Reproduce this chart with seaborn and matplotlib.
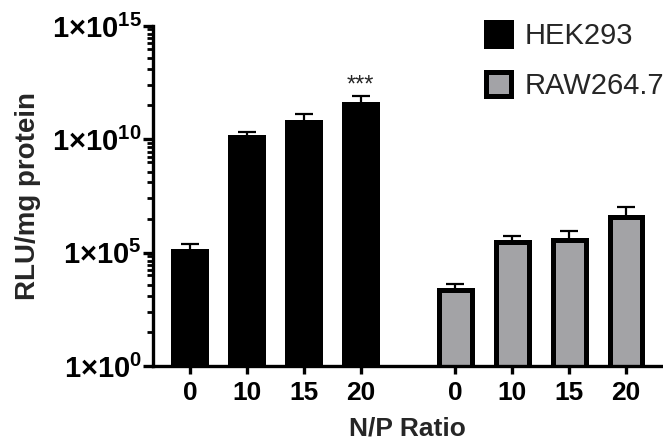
import numpy as np
import pandas as pd
import seaborn as sns
import matplotlib.pyplot as plt
from matplotlib.patches import Patch
from matplotlib.ticker import FixedLocator, NullFormatter

# data
cells = ['HEK293', 'RAW264.7']
np_ratio = ['0', '10', '15', '20']
hek_rlu = [1.2e5, 1.25e10, 5.7e10, 3.8e11]
hek_err = [1.3e5, 0.95e10, 6.9e10, 4.7e11]
raw_rlu = [2.2e3, 3.0e5, 3.7e5, 3.7e6]
raw_err = [1.8e3, 2.2e5, 5.8e5, 6.8e6]
colors = ['black', '#a3a3a7']

#%%
group_gap = 4.667
rows = []
for g, (cell, vals, errs) in enumerate([(cells[0], hek_rlu, hek_err), (cells[1], raw_rlu, raw_err)]):
    for i, r in enumerate(np_ratio):
        rows.append({'cell': cell, 'ratio': r, 'pos': g * group_gap + i,
                     'rlu': vals[i], 'err': errs[i]})
df = pd.DataFrame(rows)

#%%
sns.set_style('ticks')
plt.rcParams['font.family'] = ['Liberation Sans', 'DejaVu Sans']
plt.rcParams['mathtext.fontset'] = 'custom'
plt.rcParams['mathtext.rm'] = 'Liberation Sans:bold'
plt.rcParams['mathtext.bf'] = 'Liberation Sans:bold'
plt.rcParams['mathtext.default'] = 'bf'

fig = plt.figure(figsize=(6.63, 4.44), dpi=100)
ax = fig.add_axes([153 / 663, 78 / 444, 509 / 663, 340 / 444])

sns.barplot(data=df, x='pos', y='rlu', hue='cell', palette=colors,
            native_scale=True, dodge=False, width=0.58, edgecolor='black',
            linewidth=3.6, errorbar=None, legend=False, ax=ax)
for p in ax.patches:
    p.set_zorder(2)

ax.errorbar(df['pos'], df['rlu'], yerr=[np.zeros(len(df)), df['err']],
            fmt='none', ecolor='black', elinewidth=1.6, capsize=6.8,
            capthick=1.6, zorder=1)

ax.set_yscale('log')
ax.set_ylim(1, 1e15)
ax.set_xlim(-0.65, 8.3)

major = [1e0, 1e5, 1e10, 1e15]
ax.yaxis.set_major_locator(FixedLocator(major))
ax.set_yticklabels(['1×10$^{%d}$' % int(np.log10(m)) for m in major])
offs = [0.15, 0.35, 0.55, 0.77, 1.0, 1.42, 1.9, 2.6, 3.5]
minor = [10 ** (e - d) for e in [5, 10, 15] for d in offs]
ax.yaxis.set_minor_locator(FixedLocator(minor))
ax.yaxis.set_minor_formatter(NullFormatter())

ax.set_xticks(df['pos'])
ax.set_xticklabels(df['ratio'])

ax.tick_params(axis='both', which='major', length=7, width=2.4,
               color='black', labelcolor='black')
ax.tick_params(axis='y', which='major', pad=1, labelsize=21)
ax.tick_params(axis='x', which='major', length=6, pad=5, labelsize=19)
ax.tick_params(axis='y', which='minor', length=4.5, width=2.0, color='black')
for lab in ax.get_xticklabels() + ax.get_yticklabels():
    lab.set_fontweight('bold')

sns.despine(ax=ax)
for s in ['left', 'bottom']:
    ax.spines[s].set_linewidth(2.4)
    ax.spines[s].set_color('black')

ax.set_ylabel('RLU/mg protein', fontsize=20, fontweight='bold', labelpad=8)
ax.set_xlabel('N/P Ratio', fontsize=19, fontweight='bold', labelpad=8)

top = df['rlu'].iloc[3] + df['err'].iloc[3]
ax.annotate('***', xy=(df['pos'].iloc[3], top), xytext=(0, -1),
            textcoords='offset points', ha='center', va='bottom', fontsize=17)

handles = [Patch(facecolor=c, edgecolor='black', linewidth=3.6) for c in colors]
ax.legend(handles, cells, loc='upper left', bbox_to_anchor=(486 / 663, 1 - 22 / 444),
          bbox_transform=fig.transFigure, frameon=False, fontsize=21,
          handlelength=0.86, handleheight=0.86, handletextpad=0.45,
          labelspacing=0.75, borderpad=0, borderaxespad=0)

plt.savefig('out.png', dpi=100)
